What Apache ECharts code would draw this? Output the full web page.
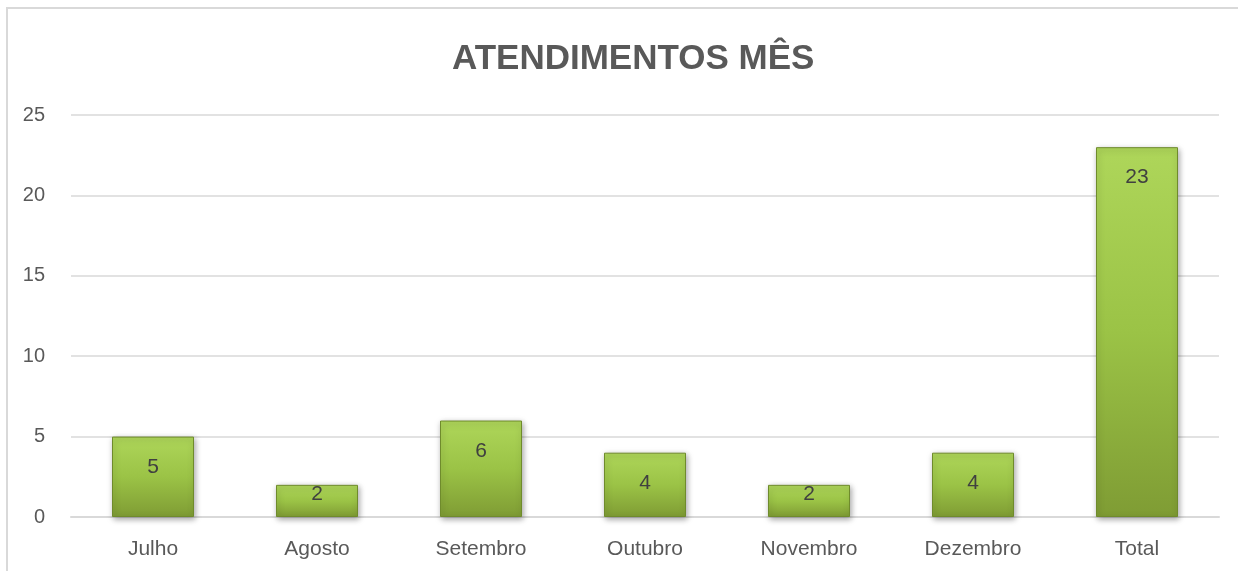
<!DOCTYPE html>
<html>
<head>
<meta charset="utf-8">
<script src="https://cdn.jsdelivr.net/npm/echarts@6/dist/echarts.min.js"></script>
<style>
  html, body { margin: 0; padding: 0; background: #fff; }
</style>
</head>
<body>
<div id="chart" style="width:1238px;height:571px;"></div>
<script>
var months = ["Julho", "Agosto", "Setembro", "Outubro", "Novembro", "Dezembro", "Total"];
var atendimentos = [5, 2, 6, 4, 2, 4, 23];
var yTicks = [0, 5, 10, 15, 20, 25];

var myChart = echarts.init(document.getElementById("chart"));
var fontFam = "'Liberation Sans', 'DejaVu Sans', sans-serif";

var barColor = new echarts.graphic.LinearGradient(0, 0, 0, 1, [
  { offset: 0, color: "#aed65a" },
  { offset: 0.5, color: "#9bc346" },
  { offset: 1, color: "#7f9c34" }
]);

var option = {
  animation: false,
  title: {
    text: "ATENDIMENTOS MÊS",
    left: 447,
    top: 37,
    textStyle: { color: "#595959", fontSize: 35, fontWeight: "bold", fontFamily: fontFam }
  },
  graphic: [
    {
      type: "rect",
      shape: { x: 7, y: 8, width: 1300, height: 700 },
      style: { fill: null, stroke: "#d9d9d9", lineWidth: 2 },
      silent: true
    }
  ],
  grid: { left: 71, right: 19, top: 115, bottom: 54 },
  xAxis: {
    type: "category",
    data: months,
    axisTick: { show: false },
    axisLine: { lineStyle: { color: "#d9d9d9", width: 2 } },
    axisLabel: { color: "#595959", fontSize: 21, fontFamily: fontFam, margin: 22 }
  },
  yAxis: {
    type: "value",
    min: yTicks[0],
    max: yTicks[yTicks.length - 1],
    interval: 5,
    axisLine: { show: false },
    axisTick: { show: false },
    splitLine: { lineStyle: { color: "#d9d9d9", width: 1.5 } },
    axisLabel: { color: "#595959", fontSize: 20, fontFamily: fontFam, margin: 26 }
  },
  series: [
    {
      name: "Atendimentos",
      type: "bar",
      barWidth: "50%",
      data: atendimentos.map(function (v) {
        return v < 3
          ? { value: v, label: { position: "inside", offset: [0, -7] } }
          : v;
      }),
      itemStyle: {
        color: barColor,
        borderColor: "#6f8b2c",
        borderWidth: 1,
        shadowColor: "rgba(0,0,0,0.35)",
        shadowBlur: 6,
        shadowOffsetX: 1,
        shadowOffsetY: 2
      },
      label: {
        show: true,
        position: "insideTop",
        distance: 20,
        color: "#404040",
        fontSize: 21,
        fontFamily: fontFam
      }
    }
  ]
};
myChart.setOption(option);
</script>
</body>
</html>
